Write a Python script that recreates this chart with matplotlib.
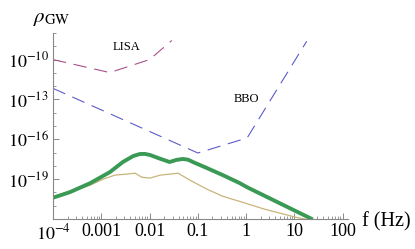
import numpy as np
from matplotlib import pyplot as plt
from matplotlib import ticker

plt.rcParams['font.family'] = ['Liberation Serif', 'DejaVu Serif']
plt.rcParams['mathtext.fontset'] = 'stix'

# detector sensitivity curves (f in Hz, rho_GW)
lisa_f = [1e-4, 1.5e-3, 1.0e-2, 2.9e-2]
lisa_rho = [1.0e-10, 1.05e-11, 1.0e-10, 2.75e-9]

bbo_f = [1e-4, 0.1, 1.05, 18]
bbo_rho = [6.8e-13, 9.3e-18, 1.26e-16, 2.4e-9]

# signal spectra
thick_f = [1e-4, 2.24e-4, 5.9e-4, 1.51e-3, 2.8e-3, 4.6e-3, 6.3e-3, 8.0e-3, 1.02e-2,
           1.6e-2, 2.6e-2, 3.6e-2, 4.9e-2, 6.3e-2, 7.9e-2, 0.155, 0.33, 0.74, 1.05, 24]
thick_rho = [4.0e-21, 1.05e-20, 5.0e-20, 3.4e-19, 1.95e-18, 5.5e-18, 7.8e-18, 7.9e-18, 6.6e-18,
             3.6e-18, 1.95e-18, 2.8e-18, 3.3e-18, 2.9e-18, 1.95e-18, 6.8e-19, 2.0e-19, 5.0e-20,
             2.45e-20, 9.3e-23]

thin_f = [1e-4, 2.24e-4, 5.9e-4, 1.1e-3, 1.9e-3, 3.4e-3, 5.0e-3, 6.9e-3, 1.02e-2,
          1.66e-2, 3.9e-2, 6.9e-2, 0.155, 0.33, 0.74, 2.45, 11.2, 18]
thin_rho = [4.0e-21, 1.05e-20, 3.5e-20, 1.0e-19, 2.0e-19, 2.4e-19, 2.8e-19, 1.4e-19, 1.2e-19,
            2.0e-19, 2.8e-19, 8.3e-20, 1.74e-20, 5.1e-21, 2.1e-21, 5.4e-22, 1.3e-22, 9.3e-23]

xticks = [1e-4, 1e-3, 1e-2, 1e-1, 1, 10, 100]
xticklabels = [r'$10^{-4}$', '0.001', '0.01', '0.1', '1', '10', '100']
yticks = [1e-19, 1e-16, 1e-13, 1e-10]
yticklabels = [r'$10^{-19}$', r'$10^{-16}$', r'$10^{-13}$', r'$10^{-10}$']

fig = plt.figure(figsize=(4.15, 2.49), dpi=100)
ax = fig.add_axes([53/415, 30/249, 295/415, 186/249])

ax.plot(lisa_f, lisa_rho, color='#a8508a', lw=0.8, dashes=(12, 7))
ax.plot(bbo_f, bbo_rho, color='#5c5cc8', lw=0.8, dashes=(12, 7))
ax.plot(thin_f, thin_rho, color='#c8b47a', lw=0.9)
ax.plot(thick_f, thick_rho, color='#3a9a55', lw=2.8, solid_capstyle='butt',
        solid_joinstyle='round')

ax.set_xscale('log')
ax.set_yscale('log')
ax.set_xlim(1e-4, 129)
ax.set_ylim(1e-22, 1e-8)

for s in ['top', 'right']:
    ax.spines[s].set_visible(False)
for s in ['left', 'bottom']:
    ax.spines[s].set_color('#888888')
    ax.spines[s].set_linewidth(0.8)

ax.set_xticks(xticks)
ax.set_xticklabels(xticklabels)
ax.set_yticks(yticks)
ax.set_yticklabels(yticklabels)
ax.xaxis.set_minor_locator(ticker.LogLocator(base=10, subs=np.arange(2, 10), numticks=20))
ax.yaxis.set_minor_locator(ticker.LogLocator(base=10, subs=[1.0], numticks=30))
ax.yaxis.set_minor_formatter(ticker.NullFormatter())
ax.xaxis.set_minor_formatter(ticker.NullFormatter())
ax.tick_params(which='major', direction='in', length=4, width=0.7, color='#888888',
               labelsize=13, pad=3)
ax.tick_params(which='minor', direction='in', length=2, width=0.6, color='#888888')

fig.text(127/415, 1 - 46.5/249, 'LISA', fontsize=9, ha='center', va='center')
fig.text(246/415, 1 - 99/249, 'BBO', fontsize=9, ha='center', va='center')
fig.text(33/415, 1 - 22/249, r'$\rho_{\mathrm{GW}}$', fontsize=15, ha='left', va='baseline')
fig.text(362/415, 1 - 226/249, 'f (Hz)', fontsize=14.5, ha='left', va='baseline')

fig.savefig('out.png', dpi=100)
